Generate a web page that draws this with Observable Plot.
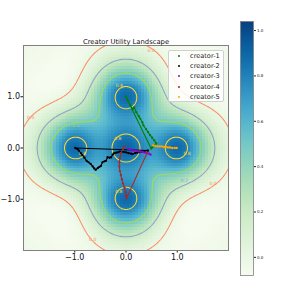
<!DOCTYPE html>
<html><head><meta charset="utf-8">
<script src="https://cdn.jsdelivr.net/npm/d3@7"></script>
<script src="https://cdn.jsdelivr.net/npm/@observablehq/plot@0.6"></script>
<style>
body{margin:0;background:#fff;font-family:"DejaVu Sans",sans-serif;}
#wrap{position:relative;width:293px;height:293px;overflow:hidden;}
#main{position:absolute;left:0;top:0;}
#cbar{position:absolute;left:230px;top:0;}
#legend{position:absolute;left:168px;top:50px;width:56px;height:52px;box-sizing:border-box;
  background:rgba(255,255,255,0.85);border:0.8px solid #d0d0d0;border-radius:2px;font-family:"DejaVu Sans",sans-serif;}
.row{position:relative;height:10.2px;font-size:6.6px;line-height:10.2px;color:#222;white-space:nowrap;}
.row span.m{position:absolute;left:9px;top:4.1px;width:2px;height:2px;border-radius:1px;}
.row span.t{position:absolute;left:21px;top:0;}
</style></head><body>
<div id="wrap"><div id="main"></div><div id="cbar"></div><div id="legend"></div></div>
<script>
// ---- landscape (user-cluster centres) ----
const peakX = [0, -1, 0, 1, 0];
const peakY = [1, 0, 0, 0, -1];
const SIGMA = 0.45, RING_R = 1.4, RING_W = 0.35, RING_DEPTH = 0.03, OFFSET = -0.028;
const colorDomain = [-0.08, 1.04];
const contourLevels = [0.0, 0.2, 0.5, 0.8];
const contourColors = ["#fc8d62", "#8da0cb", "#a6d854", "#ffd92f"];

// ---- contour labels ----
const labelX = [-0.13, -0.16, -0.85, 1.19, -0.14, -0.98, 1.14, 0.49, -1.86, -0.65, 1.7];
const labelY = [1.22, 0.18, -0.1, -0.1, -0.84, 0.44, -0.64, 1.91, 0.6, -1.78, -0.7];
const labelLevel = [0.8, 0.8, 0.8, 0.8, 0.8, 0.5, 0.2, 0.0, 0.0, 0.0, 0.0];

// ---- creator trajectories ----
const names = ["creator-1", "creator-2", "creator-3", "creator-4", "creator-5"];
const colors = ["green", "black", "darkviolet", "brown", "orange"];
const creator1 = [[0.49,-0.01],[0.0,1.0],[0.03,0.93],[0.08,0.84],[0.13,0.76],[0.16,0.79],[0.2,0.7],[0.25,0.62],
  [0.28,0.57],[0.32,0.5],[0.34,0.44],[0.39,0.37],[0.43,0.31],[0.47,0.25],[0.51,0.2],[0.55,0.15],[0.59,0.09],
  [0.56,0.045],[0.51,0.01]];
const creator2 = [[0.43,-0.05],[-0.99,0.0],[-0.95,-0.02],[-0.92,-0.05],[-0.88,-0.1],[-0.85,-0.14],[-0.81,-0.19],
  [-0.77,-0.25],[-0.73,-0.28],[-0.69,-0.31],[-0.65,-0.36],[-0.62,-0.4],[-0.59,-0.425],[-0.55,-0.39],[-0.52,-0.37],
  [-0.49,-0.35],[-0.46,-0.28],[-0.42,-0.26],[-0.39,-0.25],[-0.36,-0.18],[-0.32,-0.19],[-0.29,-0.18],[-0.26,-0.13],
  [-0.23,-0.1],[-0.19,-0.09],[-0.16,-0.085],[-0.12,-0.07],[-0.08,-0.07],[-0.04,-0.08],[0.0,-0.085],[0.05,-0.1],
  [0.1,-0.11],[0.13,-0.118],[0.18,-0.1],[0.22,-0.09],[0.26,-0.085],[0.31,-0.07],[0.36,-0.06],[0.42,-0.05]];
const creator3 = [[0.04,-0.02],[0.07,-0.03],[0.1,-0.03],[0.13,-0.05],[0.17,-0.05],[0.21,-0.06],[0.25,-0.07],
  [0.29,-0.07],[0.33,-0.08],[0.37,-0.09],[0.41,-0.1],[0.45,-0.11],[0.48,-0.13]];
const creator4 = [[0.41,-0.1],[0.01,-0.98],[0.0,-0.92],[-0.01,-0.85],[-0.03,-0.77],[-0.06,-0.69],[-0.08,-0.61],
  [-0.1,-0.53],[-0.12,-0.45],[-0.13,-0.36],[-0.13,-0.28],[-0.12,-0.2],[-0.1,-0.1],[-0.06,-0.02],[-0.03,0.03]];
const creator5 = [[0.53,0.05],[0.57,0.04],[0.62,0.03],[0.66,0.03],[0.7,0.03],[0.74,0.02],[0.78,0.02],
  [0.82,0.01],[0.86,0.01],[0.9,0.0],[0.95,0.0],[0.99,0.0]];
const creators = [creator1, creator2, creator3, creator4, creator5];

// utility field built from the cluster centres
function utility(x, y) {
  let miss = 1, ring = 0;
  for (let k = 0; k < peakX.length; k++) {
    const d = Math.hypot(x - peakX[k], y - peakY[k]);
    miss *= 1 - Math.exp(-d * d / (2 * SIGMA * SIGMA));
    ring += Math.exp(-((d - RING_R) ** 2) / (2 * RING_W * RING_W));
  }
  return 1 - miss - RING_DEPTH * ring + OFFSET;
}
function grid(n) {
  const v = new Float64Array(n * n);
  for (let j = 0; j < n; j++) for (let i = 0; i < n; i++)
    v[j * n + i] = utility(-2 + (i + 0.5) * 4 / n, -2 + (j + 0.5) * 4 / n);
  return v;
}
const NR = 70, NC = 240;
const coarse = grid(NR), fine = grid(NC);
const fmt = d => d.toFixed(1).replace("-", "\u2212");

const marks = [
  Plot.raster(coarse, {width: NR, height: NR, x1: -2, y1: -2, x2: 2, y2: 2, fill: d => d, imageRendering: "pixelated"}),
  ...contourLevels.map((t, k) => Plot.contour(fine, {width: NC, height: NC, x1: -2, y1: -2, x2: 2, y2: 2,
      value: d => d, thresholds: [t], fill: "none", stroke: contourColors[k], strokeWidth: 1.05, strokeOpacity: 1})),
  Plot.text(labelX.map((x, i) => ({x, y: labelY[i], lv: labelLevel[i]})), {x: "x", y: "y", text: d => d.lv.toFixed(1),
      fill: d => contourColors[contourLevels.indexOf(d.lv)], fontSize: 4.5}),
];
creators.forEach((c, i) => {
  marks.push(Plot.line(c, {stroke: colors[i], strokeWidth: 1.1}));
  marks.push(Plot.dot(c, {fill: colors[i], r: 1.15, stroke: null}));
});
marks.push(Plot.frame({stroke: "#808080", strokeWidth: 1}));
marks.push(Plot.text(["Creator Utility Landscape"], {frameAnchor: "top", lineAnchor: "bottom", dy: -2, fontSize: 6.8, fill: "#111"}));

const main = Plot.plot({
  width: 293, height: 293,
  marginLeft: 23, marginRight: 65, marginTop: 45, marginBottom: 43,
  style: {fontFamily: "DejaVu Sans", fontSize: "8px", background: "transparent", color: "#111"},
  x: {domain: [-2, 2], ticks: [-1, 0, 1], tickFormat: fmt, label: null, tickSize: 2.5, tickPadding: 1.5},
  y: {domain: [-2, 2], ticks: [-1, 0, 1], tickFormat: fmt, label: null, tickSize: 2.5, tickPadding: 1},
  color: {type: "linear", scheme: "GnBu", domain: colorDomain, clamp: true},
  marks
});
document.getElementById("main").appendChild(main);

// colour bar
const RAMP = 256;
const ramp = Array.from({length: RAMP}, (_, j) => colorDomain[0] + (j + 0.5) * (colorDomain[1] - colorDomain[0]) / RAMP);
const cbar = Plot.plot({
  width: 63, height: 293,
  marginLeft: 10, marginRight: 40, marginTop: 21, marginBottom: 18,
  style: {fontFamily: "DejaVu Sans", fontSize: "4px", background: "transparent", color: "#222"},
  x: {domain: [0, 1], axis: null},
  y: {domain: colorDomain, axis: "right", ticks: [0, 0.2, 0.4, 0.6, 0.8, 1.0], tickFormat: ".1f", label: null, tickSize: 2, tickPadding: 1.5},
  color: {type: "linear", scheme: "GnBu", domain: colorDomain},
  marks: [
    Plot.raster(ramp, {width: 1, height: RAMP, x1: 0, x2: 1, y1: colorDomain[0], y2: colorDomain[1], fill: d => d}),
    Plot.frame({stroke: "#808080", strokeWidth: 0.8})
  ]
});
document.getElementById("cbar").appendChild(cbar);

// legend
const lg = document.getElementById("legend");
names.forEach((n, i) => {
  const r = document.createElement("div"); r.className = "row";
  r.innerHTML = `<span class="m" style="background:${colors[i]}"></span><span class="t">${n}</span>`;
  lg.appendChild(r);
});
</script></body></html>
